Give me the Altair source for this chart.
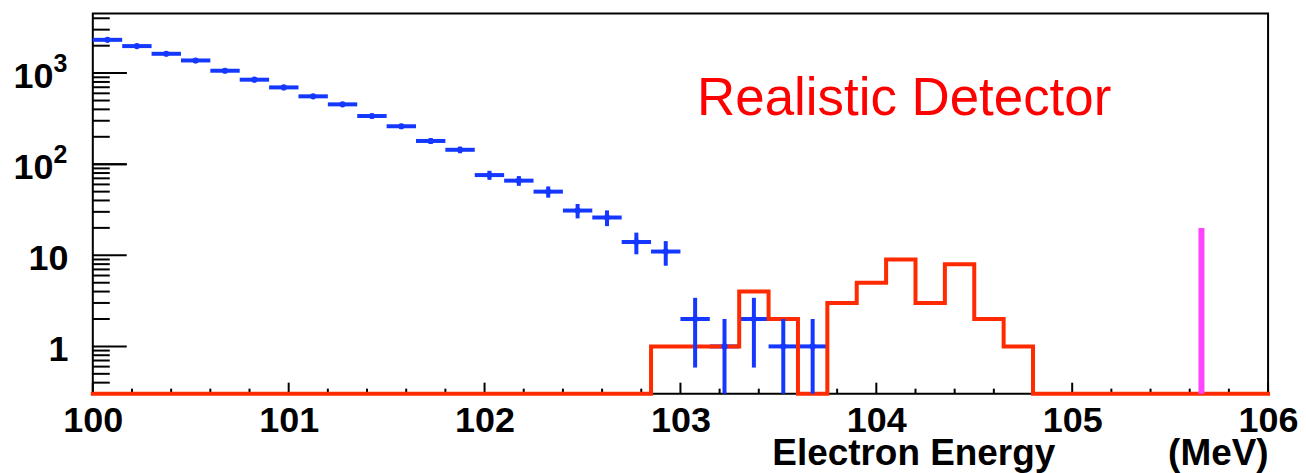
import altair as alt
import numpy as np
import pandas as pd

# ---------------- data ----------------
# Blue points: bin centres (MeV) and counts (bins of 0.15 MeV)
blue_centers = [100.075, 100.225, 100.375, 100.525, 100.675, 100.825, 100.975,
                101.125, 101.275, 101.425, 101.575, 101.725, 101.875, 102.025,
                102.175, 102.325, 102.475, 102.625, 102.775, 102.925, 103.075,
                103.225, 103.375, 103.525, 103.675]
blue_counts = [2320, 1980, 1630, 1377, 1062, 847, 697, 556, 454, 338, 261, 180,
               144, 76, 66, 50, 31, 26, 14, 11, 2, 1, 2, 1, 1]
blue_half_width = 0.075

# Red histogram ("Realistic Detector"): lower bin edges and counts
red_edges = [100.0, 102.85, 103.0, 103.15, 103.3, 103.45, 103.6, 103.75, 103.9,
             104.05, 104.2, 104.35, 104.5, 104.65, 104.8, 106.0]
red_counts = [0, 1, 1, 1, 4, 2, 0, 3, 5, 9, 3, 8, 2, 1, 0, 0]

# Magenta line (signal endpoint)
magenta_x = [105.66]
magenta_y = [20]

# Axis ticks
x_major_ticks = [100, 101, 102, 103, 104, 105, 106]
x_minor_ticks = [round(100 + 0.2 * i, 1) for i in range(31) if i % 5 != 0]
y_major_ticks = [1, 10, 100, 1000]
y_sup_ticks = [100, 1000]
y_minor_ticks = ([0.4, 0.5, 0.6, 0.7, 0.8, 0.9] + [2, 3, 4, 5, 6, 7, 8, 9] +
                 [20, 30, 40, 50, 60, 70, 80, 90] +
                 [200, 300, 400, 500, 600, 700, 800, 900] + [2000, 3000, 4000])

# ---------------- styling / layout ----------------
W, H = 1178, 381
Y_MIN, Y_MAX = 0.303, 4510
FONT = "Liberation Sans"
BLUE = "#1438ff"
RED = "#ff2a00"
MAGENTA = "#ff44ff"

x_scale = alt.Scale(domain=[100, 106], nice=False, zero=False)
y_scale = alt.Scale(type="log", domain=[Y_MIN, Y_MAX], nice=False)

x_axis = alt.Axis(
    values=x_major_ticks, format="d", labelFont=FONT, labelFontSize=36,
    labelFontWeight="bold", labelColor="black", labelPadding=10,
    labelFlush=False, labelOverlap=False, labelBound=False,
    ticks=False, tickSize=0, domain=False, grid=False,
    title="Electron Energy" + "\u00a0" * 11 + "(MeV)",
    titleFont=FONT, titleFontSize=37, titleFontWeight="bold", titleColor="black",
    titleAnchor="end", titleAlign="right", titleBaseline="alphabetic",
    titleX=W, titleY=71,
)
# main y labels: "1", "10", and the "10" base of 10^2 / 10^3
y_axis = alt.Axis(
    values=y_major_ticks, orient="left",
    labelExpr="datum.value >= 9 ? '10' : '1'",
    labelFont=FONT, labelFontSize=36, labelFontWeight="bold", labelColor="black",
    labelPadding={"condition": {"test": "datum.value >= 99", "value": 40}, "value": 25},
    labelOffset=3,
    labelOverlap=False, ticks=False, tickSize=0,
    domain=False, grid=False, title=None,
)
# exponents of 10^2 / 10^3
y_sup_axis = alt.Axis(
    values=y_sup_ticks, orient="left",
    labelExpr="datum.value >= 999 ? '3' : '2'",
    labelFont=FONT, labelFontSize=25, labelFontWeight="bold", labelColor="black",
    labelPadding=26, labelOffset=-10,
    labelOverlap=False, ticks=False, tickSize=0,
    domain=False, grid=False, title=None,
)

def X(field):
    return alt.X(field, type="quantitative", scale=x_scale, axis=x_axis)

def Y(field, axis=y_axis):
    return alt.Y(field, type="quantitative", scale=y_scale, axis=axis)

# ---------------- tables ----------------
counts = np.array(blue_counts, dtype=float)
err = np.sqrt(counts)
blue_df = pd.DataFrame({
    "x": blue_centers,
    "y": counts,
    "xlo": np.array(blue_centers) - blue_half_width,
    "xhi": np.array(blue_centers) + blue_half_width,
    "ylo": np.maximum(counts - err, Y_MIN),
    "yhi": counts + err,
})
red_df = pd.DataFrame({
    "x": red_edges,
    "y": [c if c > 0 else Y_MIN for c in red_counts],
})
mag_df = pd.DataFrame({"x": magenta_x, "y": magenta_y, "y0": [Y_MIN]})

ymaj_df = pd.DataFrame({"v": y_major_ticks})
ysup_df = pd.DataFrame({"v": y_sup_ticks})
ymin_df = pd.DataFrame({"v": y_minor_ticks})
xmaj_df = pd.DataFrame({"v": x_major_ticks})
xmin_df = pd.DataFrame({"v": x_minor_ticks})

# ---------------- layers ----------------
ymaj = alt.Chart(ymaj_df).mark_rule(color="black", strokeWidth=2).encode(
    y=Y("v"), x=alt.value(0), x2=alt.value(34))
ymin = alt.Chart(ymin_df).mark_rule(color="black", strokeWidth=2).encode(
    y=Y("v"), x=alt.value(0), x2=alt.value(17))
xmaj = alt.Chart(xmaj_df).mark_rule(color="black", strokeWidth=2).encode(
    x=X("v"), y=alt.value(H), y2=alt.value(H - 11))
xmin = alt.Chart(xmin_df).mark_rule(color="black", strokeWidth=2).encode(
    x=X("v"), y=alt.value(H), y2=alt.value(H - 5))

hbars = alt.Chart(blue_df).mark_rule(color=BLUE, strokeWidth=4).encode(
    x=X("xlo"), x2="xhi", y=Y("y"))
red = alt.Chart(red_df).mark_line(
    color=RED, strokeWidth=4, interpolate="step-after",
    strokeJoin="miter", strokeCap="square").encode(x=X("x"), y=Y("y"))
mag = alt.Chart(mag_df).mark_rule(color=MAGENTA, strokeWidth=6).encode(
    x=X("x"), y=Y("y0"), y2="y")
vbars = alt.Chart(blue_df).mark_rule(color=BLUE, strokeWidth=4).encode(
    x=X("x"), y=Y("ylo"), y2="yhi")
pts = alt.Chart(blue_df).mark_point(
    filled=True, shape="circle", size=38, color=BLUE, opacity=1).encode(
    x=X("x"), y=Y("y"))

label_df = pd.DataFrame({"x": [103.085], "y": [344], "t": ["Realistic Detector"]})
label = alt.Chart(label_df).mark_text(
    align="left", baseline="alphabetic", font=FONT, fontSize=53,
    color="#ff0000").encode(x=X("x"), y=Y("y"), text="t")

main = alt.layer(ymaj, ymin, xmaj, xmin, hbars, red, mag, vbars, pts, label)

sup = alt.Chart(ysup_df).mark_rule(color="black", strokeWidth=2).encode(
    y=Y("v", y_sup_axis), x=alt.value(0), x2=alt.value(34))

chart = alt.layer(main, sup).resolve_axis(y="independent").properties(
    width=W, height=H,
    background="white",
    autosize=alt.AutoSizeParams(type="none"),
    padding={"left": 85, "top": 5, "right": 30, "bottom": 79},
).configure_view(
    stroke="black", strokeWidth=2
)

chart.save("out.html", embed_options={"renderer": "svg", "actions": False})
